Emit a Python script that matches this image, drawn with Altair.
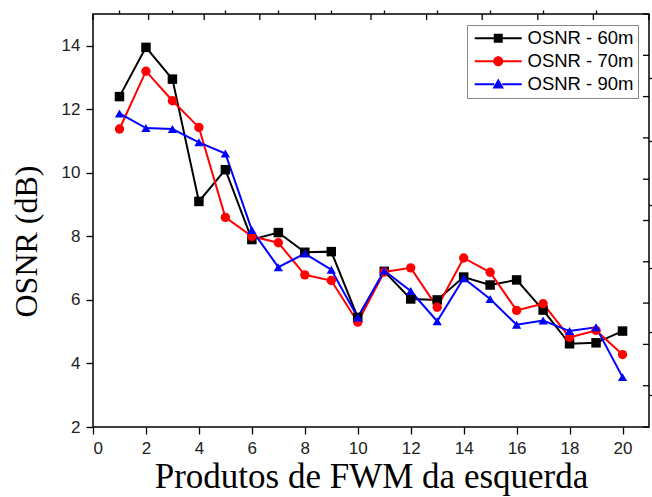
import altair as alt
import pandas as pd

# ---- data ----
x_vals = list(range(1, 21))
osnr_60 = [12.4, 13.95, 12.95, 9.1, 10.1, 7.9, 8.12, 7.5, 7.52, 5.45,
           6.9, 6.03, 6.0, 6.72, 6.47, 6.63, 5.68, 4.62, 4.65, 5.02]
osnr_70 = [11.38, 13.2, 12.27, 11.43, 8.6, 8.0, 7.8, 6.79, 6.61, 5.3,
           6.88, 7.01, 5.77, 7.32, 6.87, 5.67, 5.88, 4.82, 5.04, 4.28]
osnr_90 = [11.87, 11.41, 11.38, 10.96, 10.61, 8.2, 7.03, 7.46, 6.95, 5.45,
           6.92, 6.28, 5.33, 6.68, 6.03, 5.22, 5.35, 5.02, 5.14, 3.57]
series_names = ["OSNR - 60m", "OSNR - 70m", "OSNR - 90m"]
series_colors = ["#000000", "#ff0000", "#0000ff"]
plot_shapes = ["square", "circle", "triangle-up"]
marker_sizes = [90, 85, 115]

x_major = list(range(0, 21, 2))
x_minor = list(range(1, 20, 2))
y_major = list(range(2, 15, 2))
y_minor = list(range(3, 15, 2))
top_ticks = [round(2.1 * i, 2) for i in range(11)]
right_ticks = [round(2 + 1.3 * i, 2) for i in range(11)]

# legend symbols: line with marker in the middle
legend_paths = [
    "M-4.7,-0.2H-0.8V0.2H-4.7Z M0.8,-0.2H4.7V0.2H0.8Z M-0.9,-0.9H0.9V0.9H-0.9Z",
    "M-4.7,-0.2H-0.8V0.2H-4.7Z M0.8,-0.2H4.7V0.2H0.8Z M-1,0A1,1 0 1,1 1,0A1,1 0 1,1 -1,0Z",
    "M-4.7,-0.2H-0.8V0.2H-4.7Z M0.8,-0.2H4.7V0.2H0.8Z M0,-1.15L1.15,0.85L-1.15,0.85Z",
]

rows = []
for name, vals in zip(series_names, [osnr_60, osnr_70, osnr_90]):
    for xv, yv in zip(x_vals, vals):
        rows.append({"x": xv, "osnr": yv, "series": name})
df = pd.DataFrame(rows)
top_df = pd.DataFrame({"t": top_ticks})
right_df = pd.DataFrame({"r": right_ticks})

W, H = 556, 413
LAB_FONT = "Liberation Sans"
TITLE_FONT = "Liberation Serif"

x_scale = alt.Scale(domain=[0, 21], nice=False, zero=False)
y_scale = alt.Scale(domain=[2, 15], nice=False, zero=False)
color_scale = alt.Scale(domain=series_names, range=series_colors)

base = alt.Chart(df)

lines = base.mark_line(strokeWidth=2).encode(
    x=alt.X("x:Q", scale=x_scale,
            axis=alt.Axis(values=x_major, tickSize=7, tickWidth=1.3, tickColor="#000",
                          domain=False, grid=False, labelFont=LAB_FONT, labelFontSize=17,
                          labelColor="#222", labelPadding=6, title="Produtos de FWM da esquerda",
                          titleFont=TITLE_FONT, titleFontSize=35, titleFontWeight="normal",
                          titleColor="#000", titlePadding=3)),
    y=alt.Y("osnr:Q", scale=y_scale,
            axis=alt.Axis(values=y_major, tickSize=7, tickWidth=1.3, tickColor="#000",
                          domain=False, grid=False, labelFont=LAB_FONT, labelFontSize=17,
                          labelColor="#222", labelPadding=6, title="OSNR (dB)",
                          titleFont=TITLE_FONT, titleFontSize=32, titleFontWeight="normal",
                          titleColor="#000", titlePadding=18, titleY=227)),
    color=alt.Color("series:N", scale=color_scale, legend=None),
    detail="series:N",
)

points = base.mark_point(filled=True, opacity=1).encode(
    x=alt.X("x:Q", scale=x_scale,
            axis=alt.Axis(values=x_minor, tickSize=4, tickWidth=1.3, tickColor="#000",
                          domain=False, grid=False, labels=False, title=None)),
    y=alt.Y("osnr:Q", scale=y_scale,
            axis=alt.Axis(values=y_minor, tickSize=4, tickWidth=1.3, tickColor="#000",
                          domain=False, grid=False, labels=False, title=None)),
    color=alt.Color("series:N", scale=color_scale, legend=None),
    shape=alt.Shape("series:N", scale=alt.Scale(domain=series_names, range=plot_shapes),
                    legend=None),
    size=alt.Size("series:N", scale=alt.Scale(domain=series_names, range=marker_sizes),
                  legend=None),
)

top_rules = alt.Chart(top_df).mark_rule(color="#000", strokeWidth=1.3).encode(
    x=alt.X("t:Q", scale=x_scale, axis=None),
    y=alt.value(0), y2=alt.value(6),
)
right_rules = alt.Chart(right_df).mark_rule(color="#000", strokeWidth=1.3).encode(
    y=alt.Y("r:Q", scale=y_scale, axis=None),
    x=alt.value(W), x2=alt.value(W - 6),
)

legend_layer = base.mark_point(filled=True, opacity=1).encode(
    x=alt.X("x:Q", scale=x_scale, axis=None),
    y=alt.Y("osnr:Q", scale=y_scale, axis=None),
    color=alt.Color("series:N", scale=alt.Scale(domain=series_names, range=series_colors),
                    legend=alt.Legend(title=None, orient="none", legendX=374, legendY=11)),
    shape=alt.Shape("series:N", scale=alt.Scale(domain=series_names, range=legend_paths),
                    legend=alt.Legend(title=None, orient="none", legendX=374, legendY=11)),
).transform_filter("false")

chart = alt.layer(lines, points, top_rules, right_rules, legend_layer).resolve_scale(
    shape="independent", color="independent", size="independent"
).resolve_axis(
    x="independent", y="independent"
).properties(
    width=W, height=H,
    padding={"left": 93, "top": 14, "right": 3, "bottom": 70},
    autosize=alt.AutoSizeParams(type="none"),
).configure_view(
    stroke="#000", strokeWidth=1.5
).configure_legend(
    strokeColor="#888", strokeWidth=1, fillColor="#fff", padding=4,
    labelFont=LAB_FONT, labelFontSize=18.5, labelColor="#000",
    symbolSize=100, symbolStrokeWidth=0, symbolOffset=18, labelOffset=20,
    rowPadding=4,
)

chart.save("out.html", embed_options={"renderer": "svg", "actions": False})
